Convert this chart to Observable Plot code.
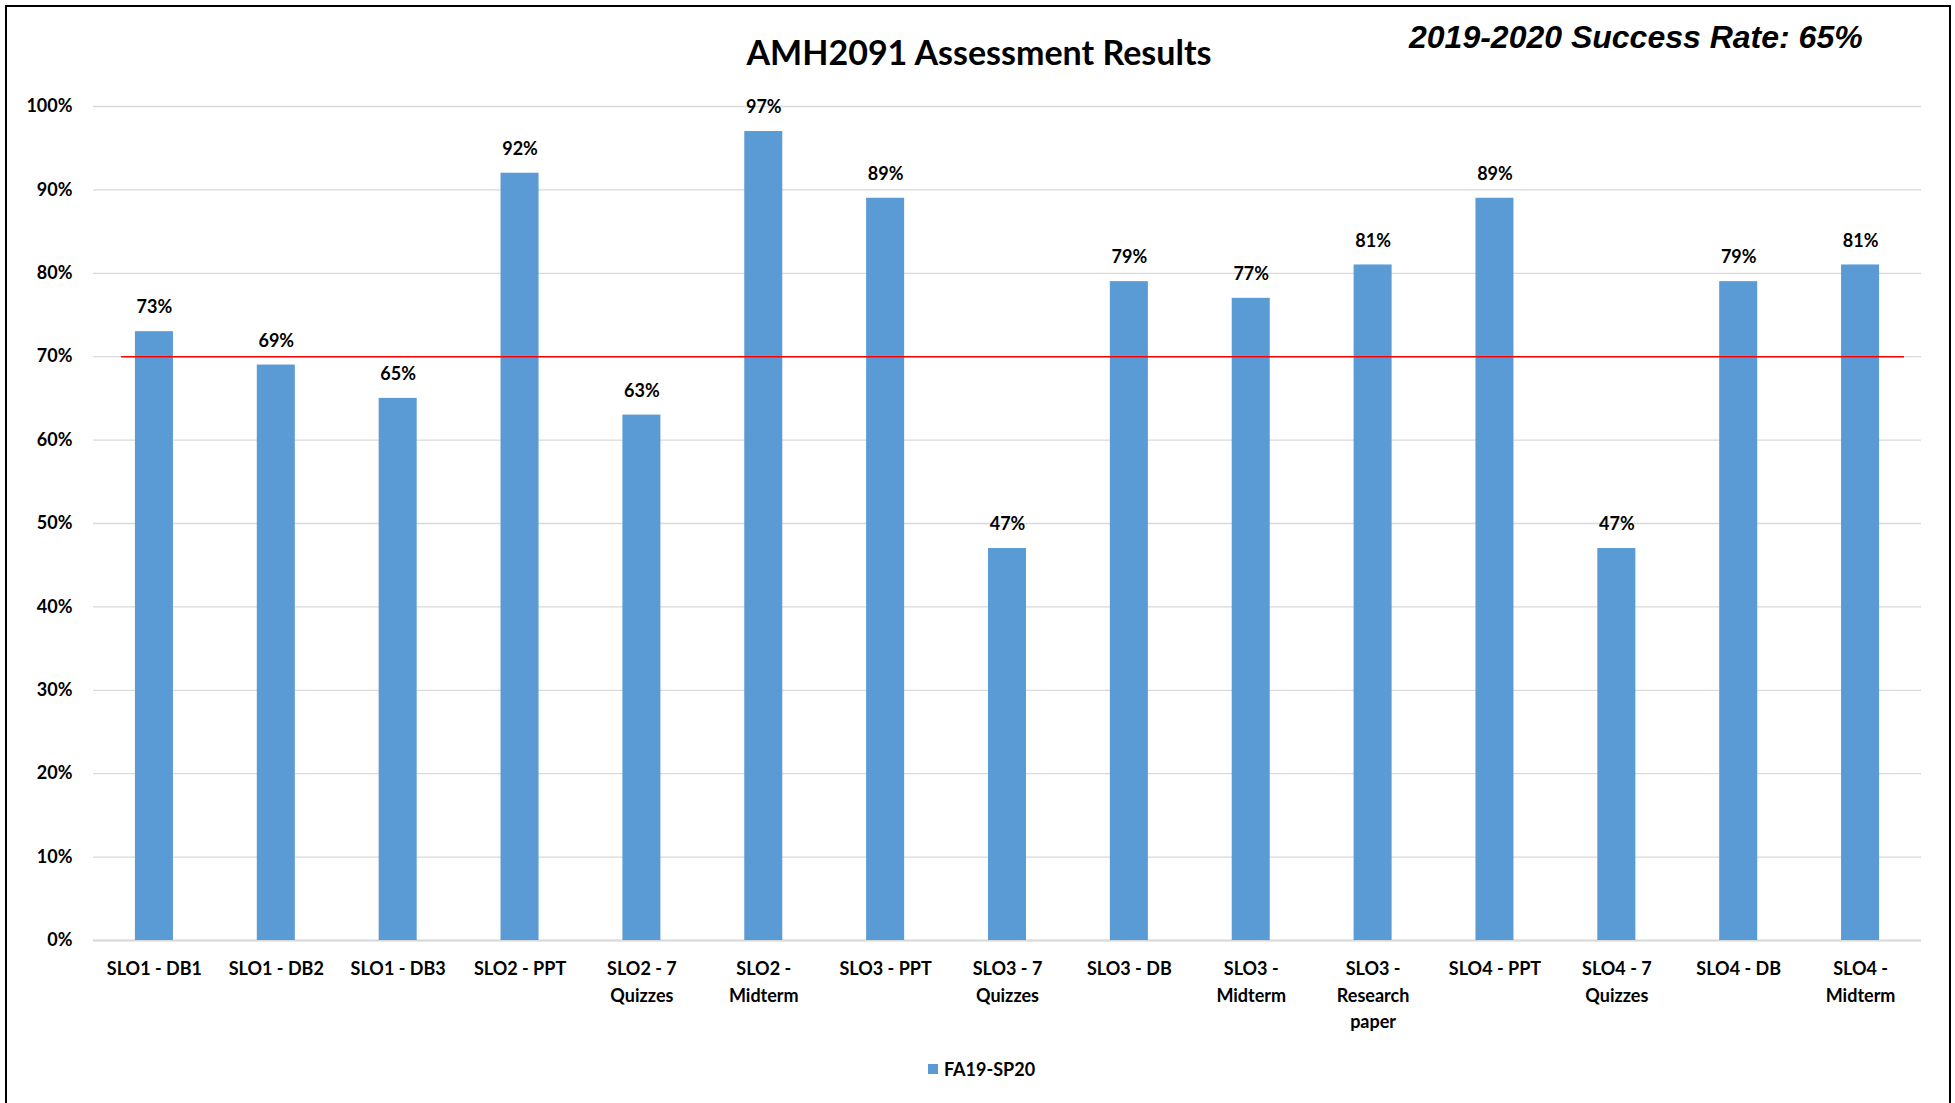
<!DOCTYPE html>
<html>
<head>
<meta charset="utf-8">
<script src="https://cdn.jsdelivr.net/npm/d3@7"></script>
<script src="https://cdn.jsdelivr.net/npm/@observablehq/plot@0.6"></script>
<style>
  html, body { margin: 0; padding: 0; background: #fff; }
  #wrap { position: relative; width: 1955px; height: 1103px; overflow: hidden; font-family: Lato, "Open Sans", sans-serif; }
  #frame { position: absolute; left: 5px; top: 5px; width: 1946px; height: 1120px; border: 2px solid #000; box-sizing: border-box; }
  #title { position: absolute; left: 0; width: 1958px; top: 30px; text-align: center; font: bold 34px Lato, sans-serif; color: #000; line-height: 44px; }
  #rate { position: absolute; left: 1409px; top: 17px; font: italic bold 32px "Liberation Sans", Arial, sans-serif; color: #000; white-space: nowrap; line-height: 40px; }
  #chart { position: absolute; left: 0; top: 0; }
  #legend { position: absolute; left: 928px; top: 1058px; font: bold 18px Lato, sans-serif; color: #000; display: flex; align-items: center; white-space: nowrap; }
  #legend .sw { width: 10px; height: 10px; background: #5B9BD5; margin-right: 6px; }
</style>
</head>
<body>
<div id="wrap">
  <div id="frame"></div>
  <div id="chart"></div>
  <div id="title"></div>
  <div id="rate"></div>
  <div id="legend"></div>
</div>
<script>
const titleText = "AMH2091 Assessment Results";
const rateText = "2019-2020 Success Rate: 65%";
const seriesName = "FA19-SP20";
const categories = [
  "SLO1 - DB1", "SLO1 - DB2", "SLO1 - DB3", "SLO2 - PPT", "SLO2 - 7 Quizzes",
  "SLO2 - Midterm", "SLO3 - PPT", "SLO3 - 7 Quizzes", "SLO3 - DB", "SLO3 - Midterm",
  "SLO3 - Research paper", "SLO4 - PPT", "SLO4 - 7 Quizzes", "SLO4 - DB", "SLO4 - Midterm"
];
const tickLabels = [
  "SLO1 - DB1", "SLO1 - DB2", "SLO1 - DB3", "SLO2 - PPT", "SLO2 - 7\nQuizzes",
  "SLO2 -\nMidterm", "SLO3 - PPT", "SLO3 - 7\nQuizzes", "SLO3 - DB", "SLO3 -\nMidterm",
  "SLO3 -\nResearch\npaper", "SLO4 - PPT", "SLO4 - 7\nQuizzes", "SLO4 - DB", "SLO4 -\nMidterm"
];
const values = [0.73, 0.69, 0.65, 0.92, 0.63, 0.97, 0.89, 0.47, 0.79, 0.77, 0.81, 0.89, 0.47, 0.79, 0.81];
const yTicks = [0, 0.1, 0.2, 0.3, 0.4, 0.5, 0.6, 0.7, 0.8, 0.9, 1.0];
const target = [0.7];

const data = categories.map((c, i) => ({category: c, value: values[i]}));
const labelOf = new Map(categories.map((c, i) => [c, tickLabels[i]]));
const pct = d3.format(".0%");

const chart = Plot.plot({
  width: 1955,
  height: 1040,
  marginLeft: 93,
  marginRight: 34,
  marginTop: 106,
  marginBottom: 100,
  style: {fontFamily: "Lato, sans-serif", fontSize: "18px", fontWeight: "bold", color: "#000", background: "transparent"},
  x: {domain: categories, paddingInner: 0.688, paddingOuter: 0.344, round: false},
  y: {domain: [0, 1]},
  marks: [
    Plot.gridY(yTicks, {stroke: "#d9d9d9", strokeOpacity: 1, strokeWidth: 1.3}),
    Plot.ruleY([0], {stroke: "#d9d9d9", strokeWidth: 2}),
    Plot.barY(data, {x: "category", y: "value", fill: "#5B9BD5"}),
    Plot.ruleY(target, {stroke: "#FF0000", strokeWidth: 1.5, insetLeft: 28, insetRight: 17}),
    Plot.text(data, {x: "category", y: "value", text: d => pct(d.value), dy: -24, fill: "#000", fontSize: 18, fontWeight: "bold"}),
    Plot.axisY({ticks: yTicks, tickFormat: pct, tickSize: 0, tickPadding: 21, label: null, fontSize: 18, fontWeight: "bold"}),
    Plot.axisX({tickSize: 0, tickPadding: 16, tickFormat: d => labelOf.get(d), label: null, lineHeight: 1.47, fontSize: 18, fontWeight: "bold"})
  ]
});
document.getElementById("chart").appendChild(chart);
document.getElementById("title").textContent = titleText;
document.getElementById("rate").textContent = rateText;
const lg = document.getElementById("legend");
const sw = document.createElement("div"); sw.className = "sw"; lg.appendChild(sw);
const lt = document.createElement("span"); lt.textContent = seriesName; lg.appendChild(lt);
</script>
</body>
</html>
